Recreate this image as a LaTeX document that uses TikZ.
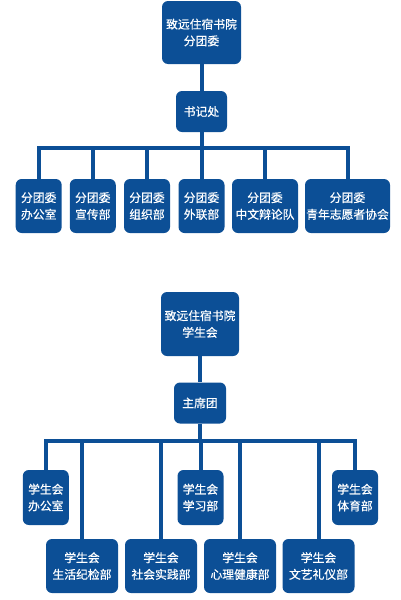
\documentclass[tikz,border=0pt]{standalone}
\usepackage{fontspec}
\newfontfamily\cjk[FakeBold=0.6]{Noto Sans CJK SC}
\definecolor{orgblue}{RGB}{12,79,150}
\tikzset{
  box/.style={fill=orgblue, rounded corners=6pt, text=white, align=center,
    inner sep=0pt, font=\cjk\fontsize{11.8}{16.7}\selectfont},
  link/.style={draw=orgblue, line width=4pt, line join=miter}
}
\begin{document}
\begin{tikzpicture}[x=1pt,y=-1pt]
\useasboundingbox (0,0) rectangle (400,600);
% ---------- top tree ----------
\node[box, minimum width=79pt, minimum height=63pt] (t1) at (201.5,32.5) {致远住宿书院\\分团委};
\node[box, minimum width=51pt, minimum height=41pt] (s1) at (201.5,111.5) {书记处};
\coordinate (bar1) at (0,148);
\node[box, minimum width=46pt, minimum height=54pt] (a1) at (38.7,206) {分团委\\办公室};
\node[box, minimum width=46pt, minimum height=54pt] (a2) at (92.8,206) {分团委\\宣传部};
\node[box, minimum width=46pt, minimum height=54pt] (a3) at (147,206) {分团委\\组织部};
\node[box, minimum width=46pt, minimum height=54pt] (a4) at (201.5,206) {分团委\\外联部};
\node[box, minimum width=66pt, minimum height=54pt] (a5) at (265,206) {分团委\\中文辩论队};
\node[box, minimum width=85pt, minimum height=54pt] (a6) at (347.5,206) {分团委\\青年志愿者协会};
\draw[link] (t1.south) -- (s1.north);
\draw[link] (s1.south) -- (s1 |- bar1);
\draw[link] (a1.north) -- (a1 |- bar1) -- (a6 |- bar1) -- (a6.north);
\foreach \n in {a2,a3,a4,a5} \draw[link] (\n.north) -- (\n |- bar1);
% ---------- bottom tree ----------
\node[box, minimum width=78pt, minimum height=64pt] (t2) at (200,324) {致远住宿书院\\学生会};
\node[box, minimum width=52pt, minimum height=41pt] (s2) at (200,403) {主席团};
\coordinate (bar2) at (0,440.5);
\node[box, minimum width=46pt, minimum height=55pt] (u1) at (45.8,497.5) {学生会\\办公室};
\node[box, minimum width=46pt, minimum height=55pt] (u2) at (200.5,497.5) {学生会\\学习部};
\node[box, minimum width=46pt, minimum height=55pt] (u3) at (355,497.5) {学生会\\体育部};
\node[box, minimum width=72pt, minimum height=54pt] (l1) at (82,566) {学生会\\生活纪检部};
\node[box, minimum width=72pt, minimum height=54pt] (l2) at (161,566) {学生会\\社会实践部};
\node[box, minimum width=72pt, minimum height=54pt] (l3) at (240,566) {学生会\\心理健康部};
\node[box, minimum width=72pt, minimum height=54pt] (l4) at (318.5,566) {学生会\\文艺礼仪部};
\draw[link] (t2.south) -- (s2.north);
\draw[link] (s2.south) -- (s2 |- bar2);
\draw[link] (u1.north) -- (u1 |- bar2) -- (u3 |- bar2) -- (u3.north);
\foreach \n in {u2,l1,l2,l3,l4} \draw[link] (\n.north) -- (\n |- bar2);
\end{tikzpicture}
\end{document}
